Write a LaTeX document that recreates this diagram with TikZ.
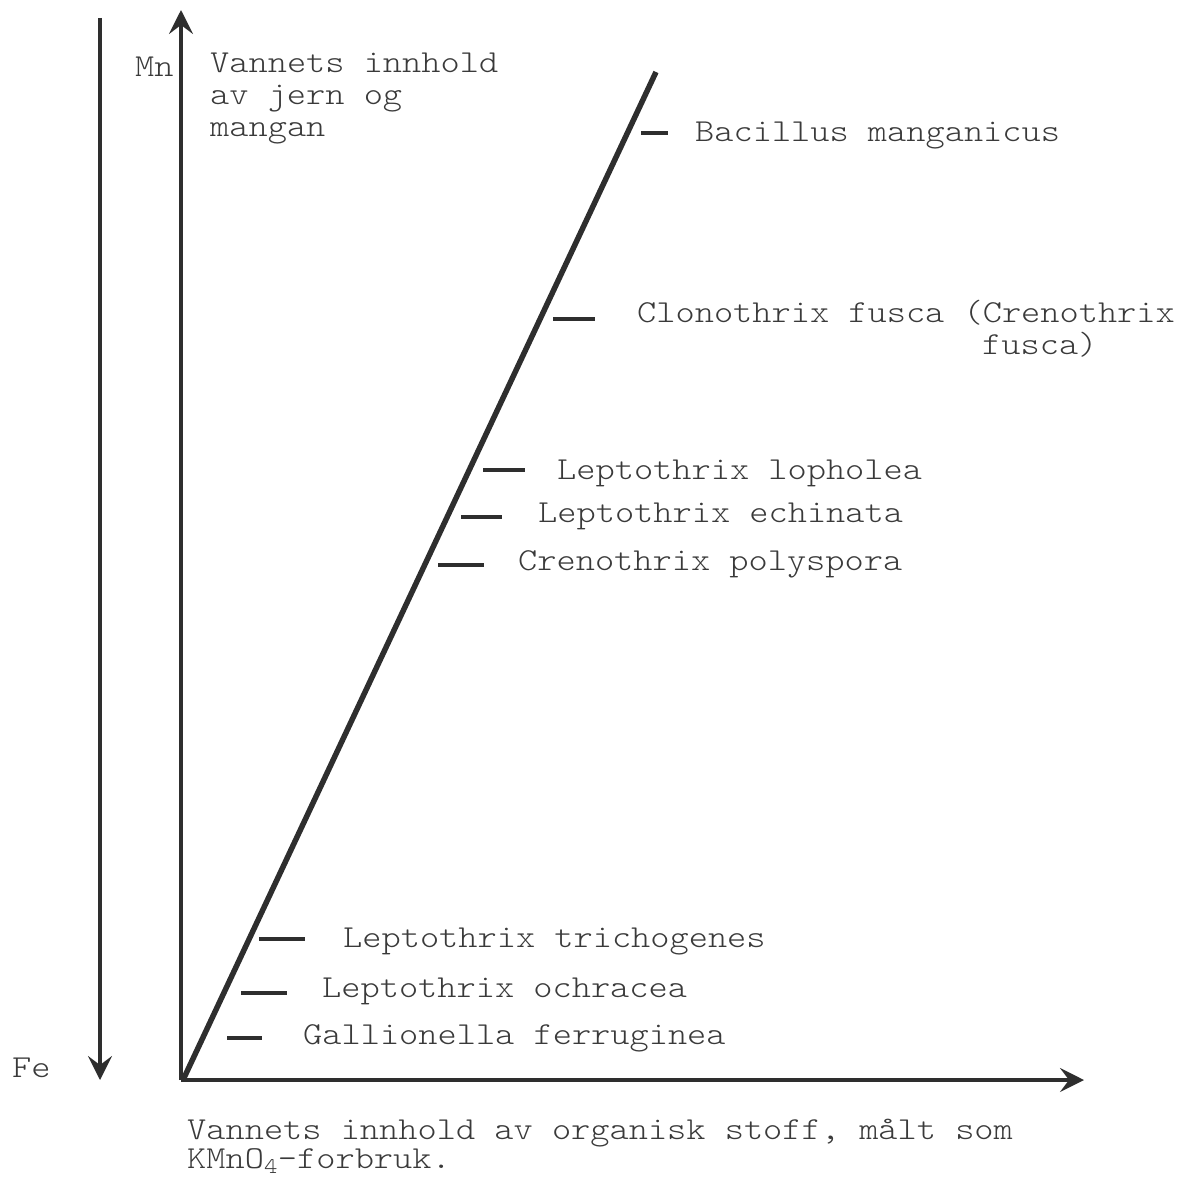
\documentclass[tikz,border=0pt]{standalone}
\usepackage{fontspec}
\setmonofont[FakeStretch=1.143]{Latin Modern Mono Light}
\usetikzlibrary{arrows.meta}
\definecolor{ink}{HTML}{2E2E2E}
\definecolor{txt}{HTML}{3A3A3A}
\tikzset{
  axis/.style={draw=ink, line width=3.2pt, -{Stealth[length=24pt,width=24pt,inset=9pt]}},
  diag/.style={draw=ink, line width=5.5pt},
  tickline/.style={draw=ink, line width=3.5pt},
  lbl/.style={anchor=base west, inner sep=0pt, text=txt, font=\fontsize{32}{32}\selectfont\ttfamily},
}
\begin{document}
\begin{tikzpicture}[x=1pt,y=-1pt]
\useasboundingbox (0,0) rectangle (1176,1177);
% axes
\coordinate (O) at (181,1080);
\coordinate (Ytop) at (181,10);
\coordinate (Xend) at (1084,1080);
\coordinate (Ltop) at (100,18);
\coordinate (Lbot) at (100,1080);
\draw[axis] (O) -- (Ytop);
\draw[axis] (O) -- (Xend);
\draw[axis] (Ltop) -- (Lbot);
% diagonal
\coordinate (D0) at (183,1080);
\coordinate (D1) at (656,72);
\draw[diag] (D0) -- (D1);
% axis labels
\node[lbl] (mn) at (135,77) {Mn};
\node[lbl] (fe) at (12,1077) {Fe};
\node[lbl, align=left, font=\fontsize{32}{32}\selectfont\ttfamily] (ya) at (210,137) {Vannets innhold\\av jern og\\mangan};
\node[lbl, align=left, font=\fontsize{32}{29}\selectfont\ttfamily] (xa) at (187,1168) {Vannets innhold av organisk stoff, målt som\\KMnO\textsubscript{4}-forbruk.};
% species
\node[lbl] (s1) at (695,142) {Bacillus manganicus};
\node[lbl] (s2) at (637,322) {Clonothrix fusca (Crenothrix};
\node[lbl] (s2b) at (982,354) {fusca)};
\node[lbl] (s3) at (557,479) {Leptothrix lopholea};
\node[lbl] (s4) at (538,522) {Leptothrix echinata};
\node[lbl] (s5) at (518,570) {Crenothrix polyspora};
\node[lbl] (s6) at (343,947) {Leptothrix trichogenes};
\node[lbl] (s7) at (322,997) {Leptothrix ochracea};
\node[lbl] (s8) at (303,1044) {Gallionella ferruginea};
% ticks
\draw[tickline] (641,133) -- (668,133);
\draw[tickline] (553,319) -- (595,319);
\draw[tickline] (483,470) -- (525,470);
\draw[tickline] (461,517) -- (502,517);
\draw[tickline] (438,565) -- (484,565);
\draw[tickline] (259,939) -- (305,939);
\draw[tickline] (241,993) -- (287,993);
\draw[tickline] (227,1038) -- (262,1038);
\end{tikzpicture}
\end{document}
